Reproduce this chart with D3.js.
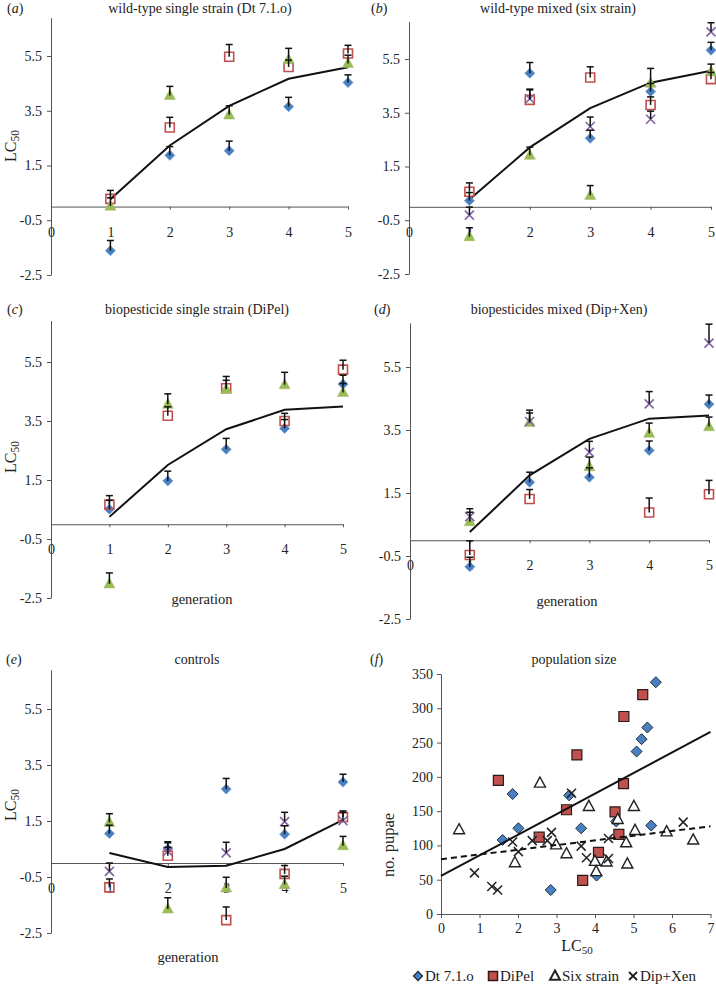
<!DOCTYPE html>
<html>
<head>
<meta charset="utf-8">
<script src="https://cdn.jsdelivr.net/npm/d3@7"></script>
<style>
body { margin: 0; background: #fff; }
text { font-family: "Liberation Serif", "Times New Roman", serif; fill: #222; }
</style>
</head>
<body>
<div id="chart"></div>
<script>
let svgWidth = 716;
let svgHeight = 984;

// ---- data: LC50 per generation (panels a-e) ----
let generations = [1, 2, 3, 4, 5];
let genTicks = [0, 1, 2, 3, 4, 5];
let lcTicks = [-2.5, -0.5, 1.5, 3.5, 5.5];

// (a) wild-type single strain (Dt 7.1.o)
let aMean = [0.27, 2.23, 3.68, 4.67, 5.09];
let aBlue = [-1.61, 1.87, 2.04, 3.65, 4.53];
let aBlueErr = [0.37, 0.32, 0.35, 0.34, 0.28];
let aRed = [0.28, 2.89, 5.47, 5.10, 5.59];
let aRedErr = [0.31, 0.37, 0.45, 0.25, 0.30];
let aGreen = [0.02, 4.06, 3.35, 5.37, 5.23];
let aGreenErr = [0.30, 0.33, 0.33, 0.41, 0.30];

// (b) wild-type mixed (six strain)
let bMean = [0.27, 2.21, 3.67, 4.62, 5.06];
let bBlue = [0.23, 4.97, 2.55, 4.29, 5.83];
let bBlueErr = [0.30, 0.40, 0.30, 0.30, 0.29];
let bRed = [0.56, 3.98, 4.81, 3.79, 4.75];
let bRedErr = [0.33, 0.37, 0.40, 0.30, 0.25];
let bGreen = [-1.11, 1.92, 0.43, 4.60, 5.03];
let bGreenErr = [0.33, 0.30, 0.36, 0.55, 0.28];
let bPurple = [-0.31, 4.02, 2.99, 3.26, 6.51];
let bPurpleErr = [0.30, 0.36, 0.35, 0.30, 0.34];

// (c) biopesticide single strain (DiPel)
let cMean = [0.25, 2.01, 3.22, 3.88, 3.99];
let cBlue = [0.51, 1.47, 2.54, 3.25, 4.75];
let cBlueErr = [0.30, 0.33, 0.37, 0.30, 0.30];
let cRed = [0.67, 3.68, 4.61, 3.50, 5.24];
let cRedErr = [0.30, 0.30, 0.40, 0.26, 0.32];
let cGreen = [-2.02, 4.07, 4.58, 4.73, 4.47];
let cGreenErr = [0.37, 0.35, 0.30, 0.42, 0.30];

// (d) biopesticides mixed (Dip+Xen)
let dMean = [0.26, 2.06, 3.22, 3.86, 3.96];
let dBlue = [-0.84, 1.84, 2.00, 2.85, 4.32];
let dBlueErr = [0.30, 0.32, 0.30, 0.30, 0.29];
let dRed = [-0.47, 1.31, null, 0.88, 1.46];
let dRedErr = [0.45, 0.30, 0, 0.46, 0.44];
let dGreen = [0.59, 3.74, 2.34, 3.40, 3.61];
let dGreenErr = [0.30, 0.30, 0.30, 0.32, 0.30];
let dPurple = [0.75, 3.77, 2.79, 4.33, 6.26];
let dPurpleErr = [0.25, 0.36, 0.35, 0.39, 0.60];

// (e) controls
let eMean = [0.36, -0.14, -0.10, 0.50, 1.54];
let eBlue = [1.05, 0.50, 2.64, 1.03, 2.89];
let eBlueErr = [0.30, 0.26, 0.38, 0.30, 0.28];
let eRed = [-0.87, 0.26, -2.04, -0.39, 1.64];
let eRedErr = [0.30, 0.30, 0.47, 0.30, 0.22];
let eGreen = [1.45, -1.64, -0.89, -0.77, 0.62];
let eGreenErr = [0.31, 0.40, 0.38, 0.30, 0.33];
let ePurple = [-0.30, 0.42, 0.36, 1.48, 1.51];
let ePurpleErr = [0.30, 0.30, 0.38, 0.33, 0.30];

// ---- data: (f) population size vs LC50 ----
let dtLC = [1.60, 1.86, 2.01, 2.85, 3.33, 3.64, 4.04, 4.55, 5.08, 5.21, 5.36, 5.46, 5.58];
let dtPupae = [108, 175, 125, 35, 173, 125, 56, 135, 237, 255, 272, 129, 338];
let dipelLC = [1.49, 2.55, 3.26, 3.53, 3.68, 4.09, 4.52, 4.62, 4.74, 4.75, 5.24];
let dipelPupae = [195, 112, 152, 232, 49, 90, 149, 116, 190, 288, 320];
let sixLC = [0.47, 1.92, 2.57, 2.99, 3.26, 3.84, 4.00, 4.03, 4.30, 4.59, 4.81, 4.84, 5.01, 5.04, 5.86, 6.55];
let sixPupae = [123, 75, 191, 101, 88, 157, 77, 62, 76, 138, 104, 73, 157, 122, 120, 108];
let dipXenLC = [0.87, 1.32, 1.47, 1.86, 2.01, 2.37, 2.76, 2.87, 3.39, 3.64, 3.78, 4.35, 4.35, 6.29];
let dipXenPupae = [60, 40, 35, 105, 91, 107, 107, 119, 176, 99, 82, 110, 81, 134];
let trendLC = [0, 7];
let singleTrend = [55.6, 265.5];
let mixedTrend = [80, 127.9];
let pupaeTicks = [0, 50, 100, 150, 200, 250, 300, 350];
let lcAxisTicks = [0, 1, 2, 3, 4, 5, 6, 7];

// ---- styles ----
let blue = "#4a7fc0", red = "#c0504d", green = "#9bbb59", purple = "#8064a2";
let axisColor = "#555";

let svg = d3.select("#chart").append("svg")
  .attr("width", svgWidth)
  .attr("height", svgHeight);

function diamondPath(s) { return `M0,${-s}L${s},0L0,${s}L${-s},0Z`; }
function squarePath(s) { return `M${-s},${-s}h${2 * s}v${2 * s}h${-2 * s}Z`; }
function trianglePath(s) { return `M0,${-s * 1.1}L${s},${s * 0.75}L${-s},${s * 0.75}Z`; }
function crossPath(s) { return `M${-s},${-s}L${s},${s}M${-s},${s}L${s},${-s}`; }

let seriesStyle = {
  blue: { path: diamondPath(5), fill: blue, stroke: "#6a9ad0", width: 0.8 },
  red: { path: squarePath(4.5), fill: "none", stroke: red, width: 1.6 },
  green: { path: trianglePath(5.5), fill: green, stroke: green, width: 0.5 },
  purple: { path: crossPath(4.5), fill: "none", stroke: purple, width: 1.6 }
};

function fmt(v) {
  return (v < 0 ? "-" + Math.abs(v) : String(v));
}

function styleAxis(g) {
  g.attr("font-family", null);
  g.selectAll("path,line").attr("stroke", axisColor).attr("stroke-width", 1);
  g.selectAll("text").attr("font-size", 14).attr("fill", "#222");
}

function lcLabel(sel, big, small) {
  sel.append("tspan").attr("font-size", big).text("LC");
  sel.append("tspan").attr("font-size", small).attr("dy", 3).text("50");
}

function drawPanel(p) {
  let x = d3.scaleLinear().domain([0, 5]).range([p.left, p.right]);
  let y = d3.scaleLinear().domain([-2.5, 5.5]).range([p.bottom, p.top55]);
  let g = svg.append("g");

  // y axis (extends a little beyond last tick like the original)
  let yAxisScale = d3.scaleLinear().domain([-2.5, 6.9]).range([y(-2.5), y(6.9)]);
  g.append("g")
    .attr("transform", `translate(${x(0)},0)`)
    .call(d3.axisLeft(yAxisScale).tickValues(lcTicks).tickSize(4).tickSizeOuter(0).tickPadding(5).tickFormat(fmt))
    .call(styleAxis);

  // x axis drawn on the zero line
  g.append("g")
    .attr("transform", `translate(0,${y(0)})`)
    .call(d3.axisBottom(x).tickValues(genTicks).tickSize(3).tickSizeOuter(0).tickPadding(17).tickFormat(d3.format("d")))
    .call(styleAxis);

  // mean line
  let line = d3.line().x((d, i) => x(generations[i])).y(d => y(d));
  g.append("path").datum(p.mean)
    .attr("d", line)
    .attr("fill", "none")
    .attr("stroke", "#111")
    .attr("stroke-width", 2);

  p.series.forEach(function(s) {
    let st = seriesStyle[s.style];
    let pts = s.vals.map((v, i) => ({ gen: generations[i], v: v, e: s.errs[i] }))
      .filter(d => d.v !== null);
    g.selectAll(null).data(pts).enter().append("path")
      .attr("d", st.path)
      .attr("transform", d => `translate(${x(d.gen)},${y(d.v)})`)
      .attr("fill", st.fill)
      .attr("stroke", st.stroke)
      .attr("stroke-width", st.width);
  });

  // error bars (upper only) drawn on top
  p.series.forEach(function(s) {
    let pts = s.vals.map((v, i) => ({ gen: generations[i], v: v, e: s.errs[i] }))
      .filter(d => d.v !== null && d.e > 0);
    let eb = g.selectAll(null).data(pts).enter().append("g")
      .attr("stroke", "#111").attr("stroke-width", 1.5);
    eb.append("line")
      .attr("x1", d => x(d.gen)).attr("x2", d => x(d.gen))
      .attr("y1", d => y(d.v)).attr("y2", d => y(d.v + d.e));
    eb.append("line")
      .attr("x1", d => x(d.gen) - 3.5).attr("x2", d => x(d.gen) + 3.5)
      .attr("y1", d => y(d.v + d.e)).attr("y2", d => y(d.v + d.e));
  });

  // titles
  g.append("text").attr("x", p.labelX).attr("y", p.titleY).attr("font-size", 14)
    .html(`(<tspan font-style="italic">${p.id}</tspan>)`);
  g.append("text").attr("x", p.titleX).attr("y", p.titleY).attr("font-size", 14)
    .attr("text-anchor", "middle").text(p.title);

  if (p.yLabelY) {
    g.append("text")
      .attr("transform", `translate(16,${p.yLabelY}) rotate(-90)`)
      .attr("text-anchor", "middle")
      .call(lcLabel, 16, 11.5);
  }
  if (p.genX) {
    g.append("text").attr("x", p.genX).attr("y", p.genY).attr("font-size", 14.5)
      .attr("text-anchor", "middle").text("generation");
  }
}

let panels = [
  { id: "a", title: "wild-type single strain (Dt 7.1.o)", left: 51, right: 348, bottom: 275, top55: 56,
    titleX: 200, titleY: 13, labelX: 7, yLabelY: 146, mean: aMean,
    series: [
      { style: "blue", vals: aBlue, errs: aBlueErr },
      { style: "red", vals: aRed, errs: aRedErr },
      { style: "green", vals: aGreen, errs: aGreenErr }
    ] },
  { id: "b", title: "wild-type mixed (six strain)", left: 409, right: 711, bottom: 274, top55: 59,
    titleX: 558, titleY: 13, labelX: 371, mean: bMean,
    series: [
      { style: "blue", vals: bBlue, errs: bBlueErr },
      { style: "red", vals: bRed, errs: bRedErr },
      { style: "green", vals: bGreen, errs: bGreenErr },
      { style: "purple", vals: bPurple, errs: bPurpleErr }
    ] },
  { id: "c", title: "biopesticide single strain (DiPel)", left: 51, right: 343, bottom: 598, top55: 362,
    titleX: 197, titleY: 314, labelX: 7, yLabelY: 457, genX: 202, genY: 604, mean: cMean,
    series: [
      { style: "blue", vals: cBlue, errs: cBlueErr },
      { style: "red", vals: cRed, errs: cRedErr },
      { style: "green", vals: cGreen, errs: cGreenErr }
    ] },
  { id: "d", title: "biopesticides mixed (Dip+Xen)", left: 410, right: 709, bottom: 619, top55: 367,
    titleX: 559, titleY: 314, labelX: 374, genX: 567, genY: 606, mean: dMean,
    series: [
      { style: "blue", vals: dBlue, errs: dBlueErr },
      { style: "red", vals: dRed, errs: dRedErr },
      { style: "green", vals: dGreen, errs: dGreenErr },
      { style: "purple", vals: dPurple, errs: dPurpleErr }
    ] },
  { id: "e", title: "controls", left: 51, right: 343, bottom: 933, top55: 709,
    titleX: 197, titleY: 664, labelX: 6, yLabelY: 805, genX: 188, genY: 962, mean: eMean,
    series: [
      { style: "blue", vals: eBlue, errs: eBlueErr },
      { style: "red", vals: eRed, errs: eRedErr },
      { style: "green", vals: eGreen, errs: eGreenErr },
      { style: "purple", vals: ePurple, errs: ePurpleErr }
    ] }
];

panels.forEach(drawPanel);

// ---- panel (f) ----
let fx = d3.scaleLinear().domain([0, 7]).range([441, 710.5]);
let fy = d3.scaleLinear().domain([0, 350]).range([914, 674]);
let fg = svg.append("g");

fg.append("g").attr("transform", "translate(441,0)")
  .call(d3.axisLeft(fy).tickValues(pupaeTicks).tickSize(4).tickSizeOuter(0).tickPadding(4).tickFormat(d3.format("d")))
  .call(styleAxis);
fg.append("g").attr("transform", "translate(0,914)")
  .call(d3.axisBottom(fx).tickValues(lcAxisTicks).tickSize(4).tickSizeOuter(0).tickPadding(5).tickFormat(d3.format("d")))
  .call(styleAxis);

let fStyles = [
  { lc: dtLC, n: dtPupae, path: diamondPath(5.5), fill: blue, stroke: "#1f2f40", width: 1 },
  { lc: dipelLC, n: dipelPupae, path: squarePath(5), fill: red, stroke: "#2a1a1a", width: 1.2 },
  { lc: sixLC, n: sixPupae, path: trianglePath(5.5), fill: "#fff", stroke: "#222", width: 1.4 },
  { lc: dipXenLC, n: dipXenPupae, path: crossPath(4.5), fill: "none", stroke: "#222", width: 1.5 }
];

fStyles.forEach(function(s) {
  fg.selectAll(null).data(s.lc).enter().append("path")
    .attr("d", s.path)
    .attr("transform", (d, i) => `translate(${fx(d)},${fy(s.n[i])})`)
    .attr("fill", s.fill)
    .attr("stroke", s.stroke)
    .attr("stroke-width", s.width);
});

let trendLine = d3.line().x((d, i) => fx(trendLC[i])).y(d => fy(d));
fg.append("path").datum(singleTrend).attr("d", trendLine)
  .attr("fill", "none").attr("stroke", "#111").attr("stroke-width", 2);
fg.append("path").datum(mixedTrend).attr("d", trendLine)
  .attr("fill", "none").attr("stroke", "#111").attr("stroke-width", 2)
  .attr("stroke-dasharray", "6,4");

fg.append("text").attr("x", 370).attr("y", 664).attr("font-size", 14)
  .html('(<tspan font-style="italic">f</tspan>)');
fg.append("text").attr("x", 574).attr("y", 664).attr("font-size", 14)
  .attr("text-anchor", "middle").text("population size");
fg.append("text").attr("transform", "translate(394,845) rotate(-90)")
  .attr("text-anchor", "middle").attr("font-size", 16.5).text("no. pupae");
fg.append("text").attr("x", 577).attr("y", 951)
  .attr("text-anchor", "middle").call(lcLabel, 16, 11);

// legend
let legendNames = ["Dt 7.1.o", "DiPel", "Six strain", "Dip+Xen"];
let legendX = [418, 493, 555, 633];
let legend = fg.selectAll(null).data(fStyles).enter().append("g")
  .attr("transform", (d, i) => `translate(${legendX[i]},976)`);
legend.append("path")
  .attr("d", (d, i) => [diamondPath(4.5), squarePath(4.5), trianglePath(5), crossPath(4)][i])
  .attr("fill", d => d.fill)
  .attr("stroke", d => d.stroke)
  .attr("stroke-width", (d, i) => i === 2 ? 2 : d.width + 0.3);
legend.append("text")
  .attr("x", 7).attr("y", 5).attr("font-size", 15)
  .text((d, i) => legendNames[i]);
</script>
</body>
</html>
